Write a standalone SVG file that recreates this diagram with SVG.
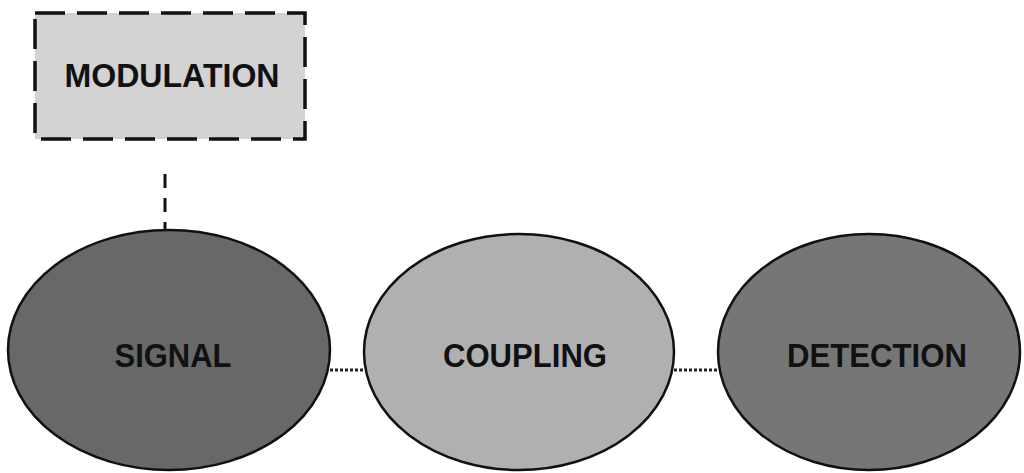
<svg xmlns="http://www.w3.org/2000/svg" width="1024" height="473" viewBox="0 0 1024 473">
<style>
.lbl{font-family:"Liberation Sans",Arial,sans-serif;font-weight:bold;font-size:33px;fill:#111;text-anchor:middle}
.oval{stroke:#111;stroke-width:2.5}
.dot{stroke:#222;stroke-width:3;stroke-dasharray:3 2;fill:none}
</style>
<rect width="1024" height="473" fill="#fff"/>
<g id="connectors">
<line x1="165" y1="172" x2="165" y2="231" stroke="#111" stroke-width="3" stroke-dasharray="14 10" stroke-dashoffset="-2"/>
<line class="dot" x1="330" y1="370" x2="366" y2="370"/>
<line class="dot" x1="674" y1="370" x2="718" y2="370"/>
</g>
<g id="modulation">
<rect x="35" y="13" width="270" height="126" fill="#d3d3d3" stroke="#111" stroke-width="3.5" stroke-dasharray="30 12"/>
<text class="lbl" x="172" y="87" textLength="215" lengthAdjust="spacingAndGlyphs">MODULATION</text>
</g>
<g id="signal">
<ellipse class="oval" cx="169" cy="350" rx="161" ry="120" fill="#686868"/>
<text class="lbl" x="173" y="367" textLength="117" lengthAdjust="spacingAndGlyphs">SIGNAL</text>
</g>
<g id="coupling">
<ellipse class="oval" cx="519" cy="352" rx="155" ry="118" fill="#b0b0b0"/>
<text class="lbl" x="525" y="367" textLength="164" lengthAdjust="spacingAndGlyphs">COUPLING</text>
</g>
<g id="detection">
<ellipse class="oval" cx="869" cy="352" rx="151" ry="118" fill="#767676"/>
<text class="lbl" x="877" y="367" textLength="180" lengthAdjust="spacingAndGlyphs">DETECTION</text>
</g>
</svg>
